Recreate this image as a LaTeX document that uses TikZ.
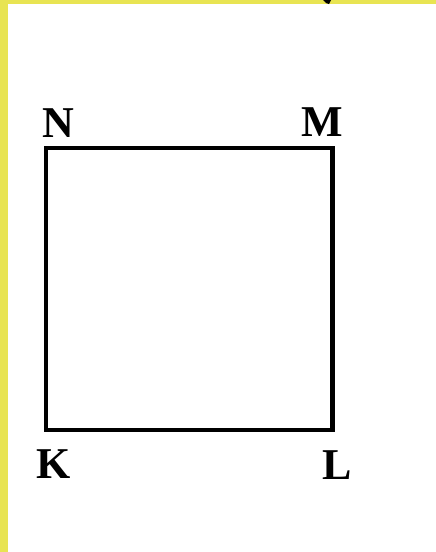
\documentclass[tikz,border=0pt]{standalone}
\usepackage{fontspec}
\setmainfont{Liberation Serif}
\usetikzlibrary{positioning}
\definecolor{frameyellow}{RGB}{232,228,82}

\begin{document}
\begin{tikzpicture}[x=1pt,y=-1pt,
  vertex/.style={font=\fontsize{44}{44}\selectfont\bfseries,inner sep=0pt}]
\useasboundingbox (0,0) rectangle (436,552);
\fill[white] (0,0) rectangle (436,552);
% yellow frame strips on the left and top
\fill[frameyellow] (0,0) rectangle (8,552);
\fill[frameyellow] (0,0) rectangle (436,4);
\fill[black] (323,0) -- (331,0) -- (329,4) -- (326,3) -- cycle;
% corners of the square
\coordinate (k) at (46,430);
\coordinate (l) at (332.5,430);
\coordinate (m) at (332.5,148);
\coordinate (n) at (46,148);
\draw[line width=4.5pt] (k) -- (l) -- (m) -- (n) -- cycle;
% vertex labels
\node[vertex] (labN) at (58,123) {N};
\node[vertex] (labM) at (322,122) {M};
\node[vertex] (labK) at (54,464) {K};
\node[vertex] (labL) at (337,465) {L};
\end{tikzpicture}
\end{document}
